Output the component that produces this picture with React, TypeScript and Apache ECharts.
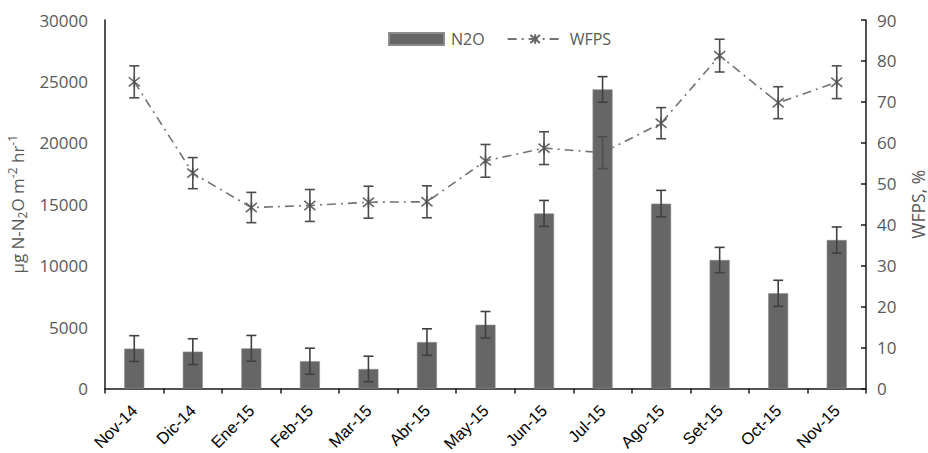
import React, { useEffect, useRef } from "react";
import * as echarts from "echarts";

const categories = ["Nov-14", "Dic-14", "Ene-15", "Feb-15", "Mar-15", "Abr-15", "May-15", "Jun-15", "Jul-15", "Ago-15", "Set-15", "Oct-15", "Nov-15"];
const n2oValues = [3250, 3000, 3270, 2220, 1590, 3780, 5190, 14250, 24350, 15050, 10460, 7750, 12090];
const n2oErrors = [1050, 1050, 1050, 1060, 1040, 1080, 1080, 1060, 1040, 1080, 1030, 1060, 1060];
const wfpsValues = [74.9, 52.6, 44.2, 44.7, 45.5, 45.6, 55.6, 58.7, 57.6, 64.8, 81.3, 69.8, 74.8];
const wfpsErrors = [3.9, 3.8, 3.7, 3.9, 3.9, 3.9, 4.0, 4.0, 3.9, 3.8, 4.0, 3.9, 4.0];
const leftTicks = { min: 0, max: 30000, interval: 5000 };
const rightTicks = { min: 0, max: 90, interval: 10 };

const FONT = "'Open Sans', 'Liberation Sans', sans-serif";

function errorRenderer(color: string) {
  return (params: any, api: any) => {
    const x = api.value(0);
    const lo = api.coord([x, api.value(1)]);
    const hi = api.coord([x, api.value(2)]);
    const hw = 5;
    const style = { stroke: color, lineWidth: 1.6 };
    return {
      type: "group",
      children: [
        { type: "line", shape: { x1: lo[0], y1: lo[1], x2: hi[0], y2: hi[1] }, style },
        { type: "line", shape: { x1: lo[0] - hw, y1: lo[1], x2: lo[0] + hw, y2: lo[1] }, style },
        { type: "line", shape: { x1: hi[0] - hw, y1: hi[1], x2: hi[0] + hw, y2: hi[1] }, style },
      ],
    };
  };
}

export default function App() {
  const ref = useRef<HTMLDivElement>(null);
  useEffect(() => {
    if (!ref.current) return;
    const chart = echarts.init(ref.current, null, { renderer: "svg" });
    const n2oErr = n2oValues.map((v, i) => [i, v - n2oErrors[i], v + n2oErrors[i]]);
    const wfpsErr = wfpsValues.map((v, i) => [i, v - wfpsErrors[i], v + wfpsErrors[i]]);
    const starPath = "path://M0,0L10,10M10,0L0,10M5,-1L5,11";
    chart.setOption({
      animation: false,
      backgroundColor: "#ffffff",
      textStyle: { fontFamily: FONT },
      grid: { left: 105, right: 62, top: 20, bottom: 64.5, containLabel: false, outerBoundsMode: "none" },
      legend: {
        top: 26,
        left: 383,
        itemWidth: 55,
        itemHeight: 12,
        itemGap: 22,
        textStyle: { fontSize: 16, color: "#595959", fontFamily: FONT, padding: [0, 0, 0, 2] },
        data: [
          { name: "N2O", icon: "rect" },
          { name: "WFPS" },
        ],
      },
      xAxis: {
        type: "category",
        data: categories,
        boundaryGap: true,
        axisLine: { lineStyle: { color: "#1a1a1a", width: 1.5 } },
        axisTick: { show: true, length: 5, lineStyle: { color: "#1a1a1a", width: 1.5 } },
        axisLabel: { rotate: 45, fontSize: 16.5, color: "#000", margin: 19, fontFamily: "'Liberation Sans', Arial, sans-serif" },
        splitLine: { show: false },
      },
      yAxis: [
        {
          type: "value",
          min: leftTicks.min,
          max: leftTicks.max,
          interval: leftTicks.interval,
          axisLine: { show: true, lineStyle: { color: "#1a1a1a", width: 1.5 } },
          axisTick: { show: false },
          splitLine: { show: false },
          axisLabel: { fontSize: 17, color: "#595959", margin: 17, formatter: (v: number) => String(v) },
          name: "{a|µg N-N}{sub|2}{a|O m}{sup|-2}{a| hr}{sup|-1}",
          nameLocation: "middle",
          nameRotate: 90,
          nameGap: 64,
          nameTextStyle: {
            color: "#595959",
            rich: {
              a: { fontSize: 17, color: "#595959", lineHeight: 22, verticalAlign: "middle" },
              sub: { fontSize: 12, color: "#595959", lineHeight: 22, verticalAlign: "bottom" },
              sup: { fontSize: 12, color: "#595959", lineHeight: 22, verticalAlign: "top" },
            },
          },
        },
        {
          type: "value",
          position: "right",
          min: rightTicks.min,
          max: rightTicks.max,
          interval: rightTicks.interval,
          axisLine: { show: true, lineStyle: { color: "#1a1a1a", width: 1.5 } },
          axisTick: { show: true, inside: true, length: 5, lineStyle: { color: "#1a1a1a", width: 1.5 } },
          splitLine: { show: false },
          axisLabel: { fontSize: 17, color: "#595959", margin: 11 },
          name: "WFPS, %",
          nameLocation: "middle",
          nameRotate: 90,
          nameGap: 43,
          nameTextStyle: { fontSize: 17.5, lineHeight: 17, color: "#595959" },
        },
      ],
      series: [
        {
          name: "N2O",
          type: "bar",
          data: n2oValues,
          yAxisIndex: 0,
          barWidth: 20,
          z: 3,
          itemStyle: { color: "#666666", borderColor: "#8c8c8c", borderWidth: 0.6 },
        },
        {
          name: "WFPS",
          type: "line",
          data: wfpsValues,
          yAxisIndex: 1,
          z: 2,
          symbol: starPath,
          symbolSize: 11,
          lineStyle: { color: "#737373", width: 1.6, type: [9, 5, 2, 5] },
          itemStyle: { color: "#666666", borderColor: "#666666", borderWidth: 1.6 },
        },
        {
          type: "custom",
          yAxisIndex: 0,
          z: 4,
          data: n2oErr,
          renderItem: errorRenderer("#404040"),
          silent: true,
        },
        {
          type: "custom",
          yAxisIndex: 1,
          z: 4,
          data: wfpsErr,
          renderItem: errorRenderer("#4d4d4d"),
          silent: true,
        },
      ],
    });
    return () => chart.dispose();
  }, []);
  return <div ref={ref} style={{ position: "fixed", left: 0, top: 0, width: 928, height: 453 }} />;
}
